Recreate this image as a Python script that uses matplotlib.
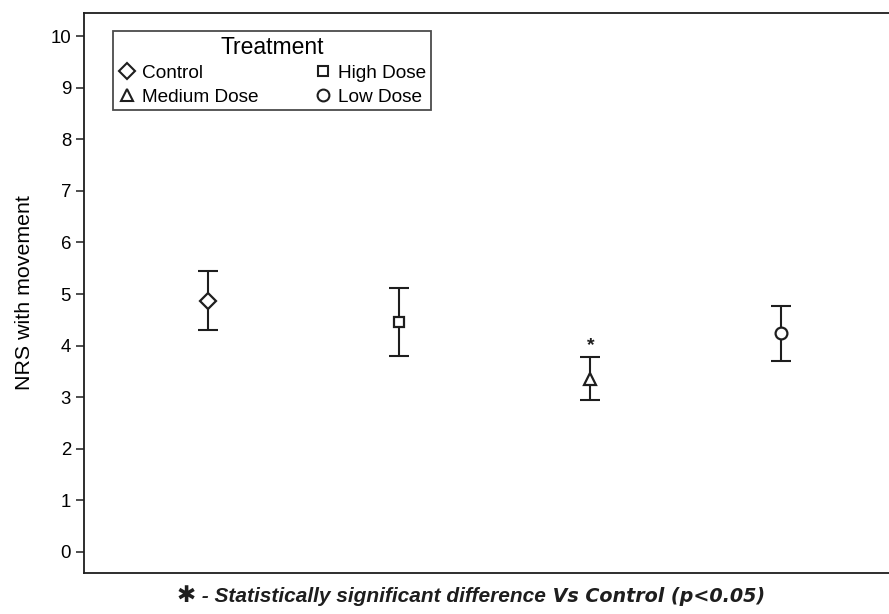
import matplotlib
matplotlib.use("Agg")
import matplotlib.pyplot as plt
from matplotlib.lines import Line2D

plt.rcParams['font.family'] = ['Liberation Sans', 'DejaVu Sans']

# Mean NRS with movement and interval bounds per treatment group
groups = ["Control", "High Dose", "Medium Dose", "Low Dose"]
means = [4.86, 4.46, 3.35, 4.24]
upper = [5.44, 5.12, 3.77, 4.77]
lower = [4.30, 3.79, 2.95, 3.70]
significant = [False, False, True, False]
markers = {"Control": "D", "High Dose": "s", "Medium Dose": "^", "Low Dose": "o"}
marker_sizes = {"Control": 8.0, "High Dose": 7.5, "Medium Dose": 8.0, "Low Dose": 8.5}
y_ticks = list(range(0, 11))

ink = "#1e1e1e"

fig = plt.figure(figsize=(8.89, 6.14), dpi=100)
ax = fig.add_axes([0.094, 0.0668, 0.916, 0.912])

xs = list(range(1, len(groups) + 1))
for x, g, m, lo, hi, sig in zip(xs, groups, means, lower, upper, significant):
    ax.errorbar([x], [m], yerr=[[m - lo], [hi - m]], fmt="none", ecolor=ink,
                elinewidth=1.5, capsize=7, capthick=1.5, zorder=2)
    ax.plot([x], [m], marker=markers[g], ms=marker_sizes[g], mfc="white",
            mec=ink, mew=1.6, ls="none", zorder=3)
    if sig:
        ax.text(x, hi + 0.06, "*", ha="center", va="bottom", fontsize=14,
                fontweight="bold", color=ink)

ax.set_xlim(0.346, 4.61)
ax.set_ylim(-0.41, 10.45)
ax.set_yticks(y_ticks)
ax.set_xticks([])
ax.tick_params(axis="y", labelsize=13.4, length=6, width=1.1, color=ink, pad=3)
for side in ("left", "bottom", "top"):
    ax.spines[side].set_linewidth(1.3)
    ax.spines[side].set_color(ink)
ax.spines["right"].set_visible(False)
ax.set_ylabel("NRS with movement", fontsize=15.4, labelpad=12)

order = ["Control", "Medium Dose", "High Dose", "Low Dose"]
handles = [Line2D([], [], marker=markers[g], ms=marker_sizes[g], mfc="white",
                  mec=ink, mew=1.5, ls="none") for g in order]
leg = ax.legend(handles, order, title="Treatment", ncol=2, loc="upper left",
                bbox_to_anchor=(0.036, 0.968), borderaxespad=0,
                fontsize=13.7, title_fontsize=16.5, frameon=True, fancybox=False,
                edgecolor=ink, handlelength=1.0, handletextpad=0.3,
                columnspacing=2.85, labelspacing=0.32, borderpad=0.25)
leg.get_frame().set_linewidth(1.3)

# Footnote assembled piecewise so the two styles sit on one baseline
fig.canvas.draw()
renderer = fig.canvas.get_renderer()
x_px = 177
y_frac = 0.019
pieces = [
    ("\u2731", dict(fontsize=16.5, family=["DejaVu Sans"])),
    (" - Statistically significant difference", dict(fontsize=15, fontweight="bold", style="italic")),
    (" Vs Control (p<0.05)", dict(fontsize=13.8, fontweight="bold", style="italic", family=["DejaVu Sans"])),
]
for txt, kw in pieces:
    t = fig.text(x_px / fig.bbox.width, y_frac, txt, ha="left", va="baseline", color=ink, **kw)
    bb = t.get_window_extent(renderer=renderer)
    x_px = bb.x1

fig.savefig("out.png", dpi=100)
